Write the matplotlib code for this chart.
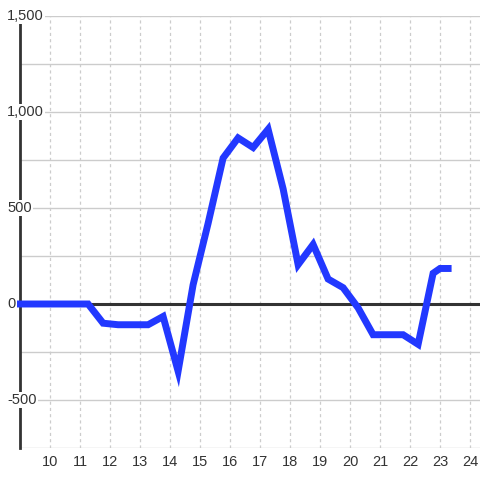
import matplotlib
matplotlib.use("Agg")
import matplotlib.pyplot as plt

plt.rcParams['font.family'] = ['Liberation Sans', 'DejaVu Sans']

# hour of day vs value
hours = [9.0, 9.27, 9.77, 10.27, 10.77, 11.27, 11.77, 12.27, 12.77, 13.27,
         13.77, 14.27, 14.77, 15.27, 15.77, 16.27, 16.77, 17.27, 17.77, 18.27,
         18.77, 19.27, 19.77, 20.27, 20.77, 21.27, 21.77, 22.27, 22.77, 23.0, 23.27]
values = [0, 0, 0, 0, 0, 0, -100, -108, -108, -108,
          -65, -350, 100, 420, 760, 865, 815, 910, 600, 205,
          310, 130, 85, -20, -160, -160, -160, -210, 160, 185, 185]

x_ticks = list(range(10, 25))
y_labels = [-500, 0, 500, 1000, 1500]
y_grid = [-750, -500, -250, 0, 250, 500, 750, 1000, 1250, 1500]

fig = plt.figure(figsize=(4.8, 4.8), dpi=100)
ax = fig.add_axes([20/480, 32/480, 460/480, 432/480])
ax.set_xlim(9, 24.333)
ax.set_ylim(-750, 1500)

for g in y_grid:
    ax.axhline(g, color='#cccccc', lw=1, zorder=1)
for t in x_ticks:
    ax.axvline(t, color='#cccccc', lw=0.9, ls=(0, (2.5, 2.5)), zorder=1)
ax.axhline(0, color='#333333', lw=2.2, zorder=2)

ax.plot(hours, values, color='#2238ff', lw=5, zorder=4,
        solid_joinstyle='miter', solid_capstyle='projecting', clip_on=False)

for s in ['top', 'right', 'bottom']:
    ax.spines[s].set_visible(False)
ax.spines['left'].set_linewidth(2)
ax.spines['left'].set_color('#333333')
ax.spines['left'].set_zorder(3)

ax.set_yticks([])
ax.set_xticks(x_ticks)
ax.tick_params(axis='x', length=0, pad=5, labelsize=10.5, labelcolor='#333333')

for v in y_labels:
    ax.text(-13/460, v, f"{v:,}", transform=ax.get_yaxis_transform(),
            ha='left', va='center', fontsize=10.5, color='#333333',
            clip_on=False, zorder=6,
            bbox=dict(boxstyle='square,pad=0.1', fc='white', ec='none'))

fig.savefig('out.png', dpi=100)
